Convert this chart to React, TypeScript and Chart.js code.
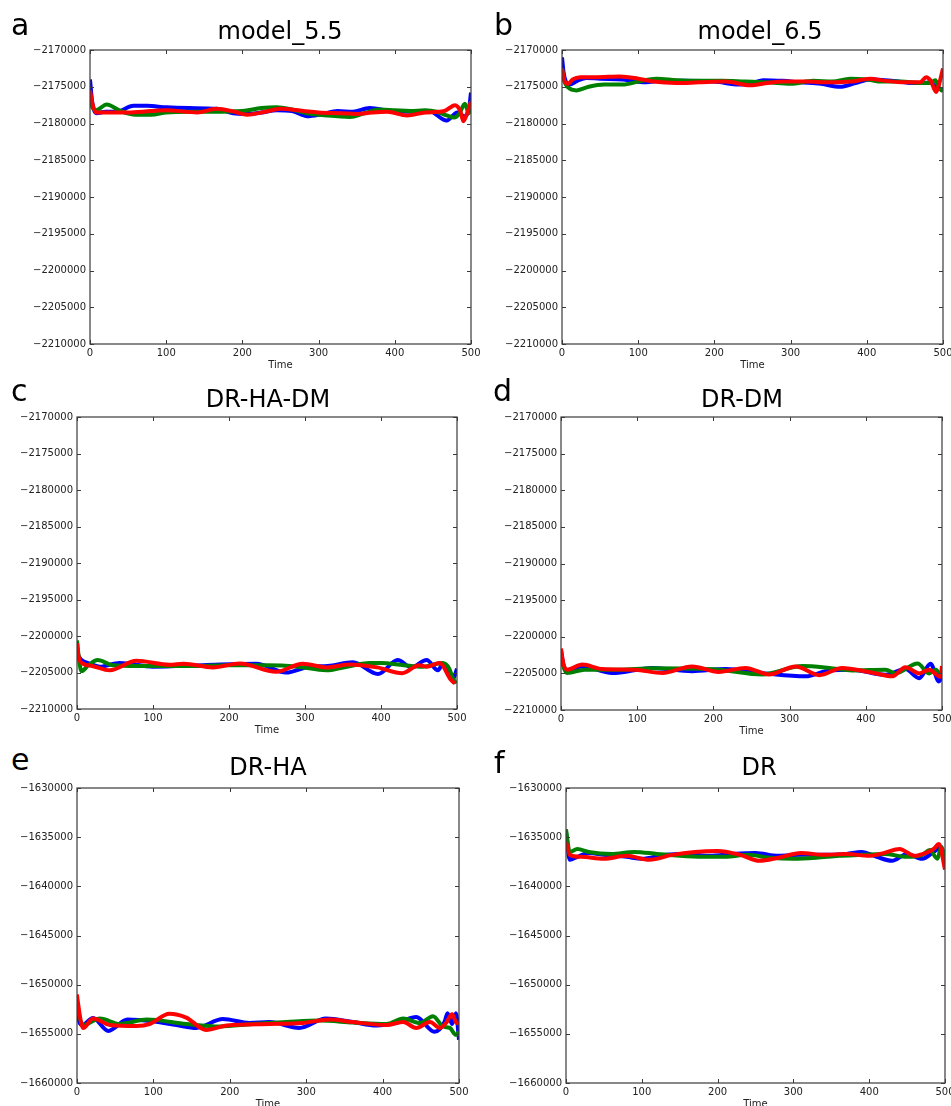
import React, { useEffect, useRef } from 'react';
import { Chart, registerables } from 'chart.js';

Chart.register(...registerables);

const FONT = '"DejaVu Sans", "Liberation Sans", sans-serif';
const COLORS = ['#0000ff', '#008000', '#ff0000'];

// ---------- a: model_5.5 ----------
const aBlueT = [0, 3, 8, 20, 35, 57, 75, 100, 130, 166, 188, 205, 225, 245, 265, 285, 305, 325, 345, 367, 395, 420, 445, 468, 482, 491, 497, 500];
const aBlueV = [-2174000, -2177200, -2178600, -2178400, -2178400, -2177600, -2177600, -2177800, -2177900, -2178000, -2178600, -2178700, -2178500, -2178200, -2178300, -2179000, -2178700, -2178300, -2178400, -2177900, -2178300, -2178400, -2178300, -2179600, -2178500, -2179000, -2178200, -2175800];
const aGreenT = [0, 3, 8, 22, 40, 60, 80, 100, 130, 160, 200, 225, 245, 265, 285, 310, 341, 360, 380, 400, 420, 440, 455, 468, 478, 485, 492, 497, 500];
const aGreenV = [-2176000, -2177800, -2178200, -2177400, -2178300, -2178800, -2178800, -2178500, -2178400, -2178400, -2178300, -2177900, -2177800, -2178100, -2178600, -2178900, -2179100, -2178600, -2178100, -2178200, -2178300, -2178200, -2178400, -2178900, -2179200, -2178600, -2177300, -2178600, -2177800];
const aRedT = [0, 3, 8, 20, 50, 80, 100, 141, 166, 190, 206, 230, 250, 280, 300, 330, 350, 370, 390, 416, 440, 465, 479, 486, 490, 495, 500];
const aRedV = [-2175500, -2177200, -2178500, -2178500, -2178500, -2178300, -2178200, -2178500, -2178000, -2178400, -2178800, -2178400, -2178000, -2178300, -2178500, -2178600, -2178700, -2178500, -2178400, -2178900, -2178500, -2178300, -2177500, -2178300, -2179700, -2178600, -2177000];

// ---------- b: model_6.5 ----------
const bBlueT = [0, 2, 5, 10, 20, 32, 50, 80, 110, 130, 160, 200, 233, 250, 264, 290, 312, 340, 365, 385, 404, 435, 460, 475, 482, 491, 500];
const bBlueV = [-2171000, -2173000, -2174300, -2174700, -2174200, -2173800, -2173900, -2174000, -2174400, -2174200, -2174200, -2174300, -2174700, -2174500, -2174100, -2174200, -2174400, -2174600, -2175000, -2174500, -2174000, -2174200, -2174500, -2174500, -2174400, -2175000, -2175500];
const bGreenT = [0, 3, 8, 19, 35, 55, 80, 100, 124, 150, 180, 210, 240, 270, 300, 330, 355, 378, 400, 420, 445, 470, 483, 490, 495, 500];
const bGreenV = [-2172500, -2174200, -2175100, -2175500, -2175000, -2174700, -2174700, -2174300, -2173900, -2174100, -2174200, -2174200, -2174300, -2174400, -2174600, -2174200, -2174300, -2173900, -2174000, -2174300, -2174300, -2174500, -2174500, -2174100, -2175200, -2175600];
const bRedT = [0, 3, 8, 14, 24, 45, 76, 100, 120, 150, 180, 215, 247, 270, 290, 320, 350, 380, 404, 425, 450, 470, 478, 484, 491, 495, 500];
const bRedV = [-2172500, -2174200, -2174600, -2174000, -2173700, -2173700, -2173600, -2173900, -2174300, -2174500, -2174400, -2174300, -2174800, -2174500, -2174300, -2174300, -2174400, -2174300, -2173900, -2174200, -2174400, -2174400, -2173700, -2174200, -2175700, -2174600, -2172500];

// ---------- c: DR-HA-DM ----------
const cBlueT = [0, 5, 17, 30, 56, 100, 166, 236, 275, 306, 330, 363, 396, 422, 440, 460, 475, 481, 494, 500];
const cBlueV = [-2202400, -2203200, -2203800, -2204200, -2203700, -2204200, -2204000, -2203800, -2205000, -2204200, -2204100, -2203600, -2205200, -2203300, -2204300, -2203300, -2204700, -2203900, -2206000, -2204500];
const cGreenT = [0, 3, 6, 15, 27, 47, 80, 120, 160, 200, 250, 290, 328, 360, 385, 400, 430, 455, 481, 490, 494, 499];
const cGreenV = [-2200600, -2203500, -2204800, -2204000, -2203300, -2204000, -2204100, -2204100, -2204100, -2204000, -2204000, -2204200, -2204700, -2204100, -2203700, -2203700, -2204000, -2204200, -2203700, -2204500, -2205700, -2206500];
const cRedT = [0, 2, 8, 20, 43, 78, 122, 140, 179, 214, 262, 297, 328, 359, 395, 428, 450, 460, 477, 492, 497];
const cRedV = [-2201000, -2202800, -2203800, -2204100, -2204700, -2203400, -2203950, -2203800, -2204300, -2203750, -2204900, -2203800, -2204300, -2203900, -2204300, -2205100, -2204000, -2204200, -2203700, -2206000, -2206500];

// ---------- d: DR-DM ----------
const dBlueT = [0, 3, 8, 27, 67, 120, 172, 216, 268, 321, 352, 382, 426, 452, 470, 485, 496, 500];
const dBlueV = [-2201900, -2203800, -2204800, -2204050, -2204950, -2204250, -2204700, -2204400, -2205000, -2205400, -2204600, -2204500, -2205200, -2204400, -2205650, -2203700, -2206100, -2205500];
const dGreenT = [0, 3, 8, 31, 76, 120, 207, 264, 317, 352, 382, 426, 439, 468, 483, 492, 498];
const dGreenV = [-2202500, -2204000, -2204950, -2204500, -2204500, -2204300, -2204500, -2205150, -2204000, -2204250, -2204600, -2204500, -2205000, -2203650, -2205000, -2204500, -2205400];
const dRedT = [0, 3, 8, 28, 54, 97, 133, 172, 207, 242, 273, 308, 339, 369, 404, 435, 452, 470, 483, 498, 500];
const dRedV = [-2201600, -2203600, -2204500, -2203800, -2204400, -2204500, -2204950, -2204050, -2204800, -2204250, -2205150, -2204050, -2205250, -2204250, -2204800, -2205400, -2204150, -2205000, -2204500, -2205450, -2204000];

// ---------- e: DR-HA ----------
const eBlueT = [0, 1, 7, 21, 41, 66, 100, 130, 156, 191, 226, 252, 291, 326, 361, 392, 422, 444, 468, 481, 485, 491, 496, 500];
const eBlueV = [-1652000, -1653050, -1654100, -1653400, -1654700, -1653550, -1653750, -1654100, -1654400, -1653500, -1653900, -1653800, -1654400, -1653450, -1653800, -1654150, -1653800, -1653300, -1654800, -1653800, -1652900, -1654000, -1652900, -1655600];
const eGreenT = [0, 1, 8, 30, 56, 91, 143, 187, 230, 274, 318, 361, 405, 427, 449, 466, 479, 488, 496, 500];
const eGreenV = [-1651500, -1652300, -1654100, -1653450, -1654000, -1653550, -1654000, -1654250, -1654000, -1653800, -1653650, -1653850, -1654000, -1653450, -1653900, -1653200, -1654250, -1654400, -1655100, -1654800];
const eRedT = [0, 1, 8, 21, 43, 78, 95, 121, 143, 169, 196, 252, 295, 331, 361, 405, 427, 444, 462, 475, 483, 491, 496, 500];
const eRedV = [-1651000, -1651700, -1654400, -1653450, -1654100, -1654200, -1654000, -1652950, -1653350, -1654600, -1654150, -1654000, -1653900, -1653550, -1653800, -1654100, -1653800, -1654400, -1653800, -1654400, -1653900, -1653000, -1653800, -1654000];

// ---------- f: DR ----------
const fBlueT = [0, 5, 15, 30, 50, 80, 100, 130, 160, 190, 220, 250, 280, 310, 340, 370, 390, 410, 430, 450, 470, 485, 495, 500];
const fBlueV = [-1634500, -1637300, -1637000, -1636600, -1636800, -1637000, -1637200, -1636800, -1636700, -1636900, -1636700, -1636600, -1636900, -1636800, -1636800, -1636700, -1636500, -1637000, -1637400, -1636700, -1637200, -1636500, -1636000, -1638000];
const fGreenT = [0, 5, 15, 30, 60, 90, 120, 150, 180, 210, 240, 270, 300, 330, 360, 390, 420, 450, 470, 480, 490, 495, 500];
const fGreenV = [-1634200, -1636500, -1636200, -1636500, -1636700, -1636500, -1636700, -1636900, -1637000, -1637000, -1636800, -1637100, -1637200, -1637100, -1636900, -1636800, -1636700, -1637000, -1636800, -1636300, -1637200, -1636000, -1637000];
const fRedT = [0, 5, 20, 50, 80, 110, 140, 170, 200, 230, 255, 280, 310, 340, 370, 400, 420, 440, 460, 475, 485, 492, 500];
const fRedV = [-1635500, -1636800, -1637000, -1637200, -1636900, -1637300, -1636800, -1636500, -1636400, -1636800, -1637400, -1637100, -1636600, -1636800, -1636700, -1636900, -1636600, -1636200, -1636900, -1636600, -1636200, -1635700, -1638300];

// Axis ranges and tick steps
const upperRange = [-2210000, -2170000];
const lowerRange = [-1660000, -1630000];
const yStep = 5000;
const xRange = [0, 500];
const xStep = 100;

type Series = [number[], number[]];
interface PanelSpec {
  letter: string;
  title: string;
  box: [number, number, number, number]; // plot area left, top, right, bottom
  range: number[];
  series: Series[];
  titleX: number;
  titleBase: number;
  letterX: number;
  letterBase: number;
}

const panels: PanelSpec[] = [
  { letter: 'a', title: 'model_5.5', box: [90, 50, 471, 344], range: upperRange,
    series: [[aBlueT, aBlueV], [aGreenT, aGreenV], [aRedT, aRedV]], titleX: 280, titleBase: 39, letterX: 11, letterBase: 35 },
  { letter: 'b', title: 'model_6.5', box: [562, 50, 943, 344], range: upperRange,
    series: [[bBlueT, bBlueV], [bGreenT, bGreenV], [bRedT, bRedV]], titleX: 760, titleBase: 39, letterX: 494, letterBase: 35 },
  { letter: 'c', title: 'DR-HA-DM', box: [77, 417, 457, 709], range: upperRange,
    series: [[cBlueT, cBlueV], [cGreenT, cGreenV], [cRedT, cRedV]], titleX: 268, titleBase: 407, letterX: 11, letterBase: 401 },
  { letter: 'd', title: 'DR-DM', box: [561, 417, 942, 710], range: upperRange,
    series: [[dBlueT, dBlueV], [dGreenT, dGreenV], [dRedT, dRedV]], titleX: 742, titleBase: 407, letterX: 493, letterBase: 401 },
  { letter: 'e', title: 'DR-HA', box: [77, 788, 459, 1083], range: lowerRange,
    series: [[eBlueT, eBlueV], [eGreenT, eGreenV], [eRedT, eRedV]], titleX: 268, titleBase: 775, letterX: 11, letterBase: 770 },
  { letter: 'f', title: 'DR', box: [566, 788, 945, 1083], range: lowerRange,
    series: [[fBlueT, fBlueV], [fGreenT, fGreenV], [fRedT, fRedV]], titleX: 759, titleBase: 775, letterX: 494, letterBase: 773 },
];

const Y_AXIS_W = 80;
const X_AXIS_H = 30;
const PAD_TOP = 10;
const PAD_RIGHT = 15;

// Box around the plot area with inward ticks on all four sides
const framePlugin = {
  id: 'frame',
  afterDatasetsDraw(chart: any) {
    const { ctx, chartArea, scales } = chart;
    const { left, top, right, bottom } = chartArea;
    const tl = 4;
    ctx.save();
    ctx.strokeStyle = '#3a3a3a';
    ctx.lineWidth = 1.2;
    ctx.strokeRect(left, top, right - left, bottom - top);
    ctx.beginPath();
    scales.x.ticks.forEach((t: any) => {
      const px = Math.round(scales.x.getPixelForValue(t.value)) + 0.5;
      ctx.moveTo(px, bottom); ctx.lineTo(px, bottom - tl);
      ctx.moveTo(px, top); ctx.lineTo(px, top + tl);
    });
    scales.y.ticks.forEach((t: any) => {
      const py = Math.round(scales.y.getPixelForValue(t.value)) + 0.5;
      ctx.moveTo(left, py); ctx.lineTo(left + tl, py);
      ctx.moveTo(right, py); ctx.lineTo(right - tl, py);
    });
    ctx.lineWidth = 1;
    ctx.stroke();
    ctx.restore();
  },
};

function Panel({ p }: { p: PanelSpec }) {
  const ref = useRef<HTMLCanvasElement>(null);
  const [L, T, R, B] = p.box;
  const W = R - L + Y_AXIS_W + PAD_RIGHT;
  const H = B - T + PAD_TOP + X_AXIS_H;

  useEffect(() => {
    const tickFont = { family: FONT, size: 10 };
    const chart = new Chart(ref.current as HTMLCanvasElement, {
      type: 'line',
      data: {
        // blue, green, red — red is painted last (on top)
        datasets: p.series.map(([ts, vs], i) => ({
          data: ts.map((t, j) => ({ x: t, y: vs[j] })),
          borderColor: COLORS[i],
          backgroundColor: COLORS[i],
          borderWidth: 4,
          pointRadius: 0,
          order: p.series.length - i,
          cubicInterpolationMode: 'monotone' as const,
          fill: false,
        })),
      },
      options: {
        animation: false,
        responsive: false,
        devicePixelRatio: 1,
        events: [],
        layout: { padding: { left: 0, top: PAD_TOP, right: PAD_RIGHT, bottom: 0 } },
        plugins: { legend: { display: false }, tooltip: { enabled: false } },
        scales: {
          x: {
            type: 'linear',
            min: xRange[0],
            max: xRange[1],
            grid: { display: false, drawTicks: false },
            border: { display: false },
            ticks: { stepSize: xStep, padding: 3, font: tickFont, color: '#222', maxRotation: 0, autoSkip: false },
            title: { display: true, text: 'Time', font: tickFont, color: '#222', padding: { top: 0, bottom: 3 } },
            afterFit: (s: any) => { s.height = X_AXIS_H; },
          },
          y: {
            type: 'linear',
            min: p.range[0],
            max: p.range[1],
            grid: { display: false, drawTicks: false },
            border: { display: false },
            ticks: {
              stepSize: yStep,
              padding: 4,
              font: tickFont,
              color: '#222',
              autoSkip: false,
              callback: (v: any) => '\u2212' + Math.abs(Number(v)),
            },
            afterFit: (s: any) => { s.width = Y_AXIS_W; },
          },
        },
      },
      plugins: [framePlugin],
    });
    return () => chart.destroy();
  }, []);

  return (
    <canvas
      ref={ref}
      width={W}
      height={H}
      style={{ position: 'absolute', left: L - Y_AXIS_W, top: T - PAD_TOP, width: W, height: H }}
    />
  );
}

// Places text so that its baseline sits at the given y (DejaVu Sans metrics)
function Label({ text, x, base, size, center }: { text: string; x: number; base: number; size: number; center?: boolean }) {
  const top = base - 0.846 * size;
  return (
    <div
      style={{
        position: 'absolute',
        left: center ? x - 200 : x,
        width: center ? 400 : undefined,
        textAlign: center ? 'center' : 'left',
        top,
        fontFamily: FONT,
        fontSize: size,
        lineHeight: 1,
        color: '#000',
        whiteSpace: 'nowrap',
      }}
    >
      {text}
    </div>
  );
}

export default function App() {
  return (
    <div style={{ position: 'absolute', left: 0, top: 0, width: 951, height: 1106, overflow: 'hidden', background: '#fff' }}>
      {panels.map((p) => (
        <React.Fragment key={p.letter}>
          <Panel p={p} />
          <Label text={p.letter} x={p.letterX} base={p.letterBase} size={30} />
          <Label text={p.title} x={p.titleX} base={p.titleBase} size={24} center />
        </React.Fragment>
      ))}
    </div>
  );
}
